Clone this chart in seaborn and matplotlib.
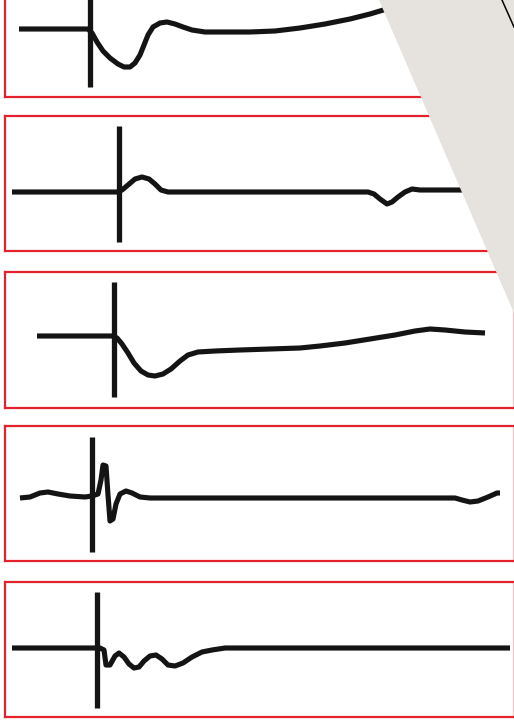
import numpy as np
import pandas as pd
import seaborn as sb
import matplotlib.pyplot as plt
from matplotlib.patches import Polygon

# traces: time (px along panel), level (px down the page)
t1 = [19, 88, 92, 97, 103, 110, 118, 124, 130, 135, 140, 144, 148, 153, 160, 167, 175, 183, 192, 205, 230, 250,
      275, 300, 325, 350, 370, 390, 410]
y1 = [29, 29, 33, 42, 51, 58, 64, 67, 67, 63, 55, 45, 35, 27, 23, 22, 24, 27, 30, 32, 32, 32,
      31, 28, 24, 19, 14, 8, 2]

t2 = [12, 117, 122, 128, 135, 142, 149, 155, 161, 168, 250, 368, 374, 380, 387, 392, 398, 405, 412, 420, 440, 470]
y2 = [192, 192, 190, 185, 179, 177, 179, 184, 190, 192, 192, 192, 194, 199, 204, 202, 197, 192, 189, 190, 190, 190]

t3 = [37, 112, 117, 122, 128, 134, 141, 148, 155, 163, 171, 180, 188, 198, 215, 240, 270, 300, 320, 345,
      370, 395, 415, 430, 445, 465, 485]
y3 = [336, 336, 338, 344, 353, 363, 371, 375, 376, 374, 369, 361, 355, 352, 351, 350, 349, 348, 346, 343,
      339, 335, 331, 329, 330, 332, 333]

t4 = [20, 30, 40, 48, 58, 70, 85, 92, 98, 101, 103, 106, 108, 110, 113, 116, 120, 126, 132, 140, 150, 300,
      455, 462, 470, 478, 488, 497, 500]
y4 = [498, 497, 493, 492, 494, 496, 497, 496, 494, 480, 465, 466, 495, 521, 519, 504, 494, 491, 493, 497, 498, 498,
      498, 500, 502, 501, 497, 493, 493]

t5 = [12, 95, 100, 104, 106, 110, 115, 119, 124, 129, 134, 139, 144, 150, 156, 162, 168, 175, 183, 192,
      202, 212, 225, 300, 510]
y5 = [648, 648, 648, 650, 665, 665, 656, 653, 657, 664, 668, 667, 661, 656, 655, 659, 665, 666, 663, 657,
      652, 650, 648, 648, 648]

# stimulus markers: time, top, bottom
marker_t = [90, 119, 114, 92, 97]
marker_top = [-30, 126, 282, 437, 592]
marker_bot = [87, 242, 397, 552, 708]

traces = [(t1, y1), (t2, y2), (t3, y3), (t4, y4), (t5, y5)]

# panel boxes in pixels (top, bottom)
boxes = [(-30, 97), (116, 251), (272, 408), (426, 561), (582, 717)]
W, H = 514, 720
left, right = 5, 513
red = '#E2232E'

fig = plt.figure(figsize=(W / 100, H / 100), dpi=100)
fig.patch.set_facecolor('white')

for i, (top, bot) in enumerate(boxes):
    ax = fig.add_axes([left / W, 1 - bot / H, (right - left) / W, (bot - top) / H])
    tt, yy = traces[i]
    sb.lineplot(x=tt, y=yy, ax=ax, color='#141414', linewidth=3.7, sort=False, estimator=None,
                solid_capstyle='butt', solid_joinstyle='round')
    sb.lineplot(x=[marker_t[i], marker_t[i]], y=[marker_top[i], marker_bot[i]], ax=ax, color='#141414',
                linewidth=3.8, sort=False, estimator=None, solid_capstyle='butt')
    ax.set_xlim(left, right)
    ax.set_ylim(bot, top)
    ax.set_xticks([])
    ax.set_yticks([])
    ax.set_xlabel('')
    ax.set_ylabel('')
    ax.set_facecolor('white')
    for side, sp in ax.spines.items():
        sp.set_color(red)
        sp.set_linewidth(1.6)
    ax.spines['right'].set_color('#F4C6C9')
    ax.spines['right'].set_linewidth(1.0)

# paper fold overlay on the top right
ov = fig.add_axes([0, 0, 1, 1], zorder=10)
ov.set_xlim(0, W)
ov.set_ylim(H, 0)
ov.axis('off')
ov.patch.set_alpha(0)
ov.add_patch(Polygon([(379, 0), (514, 313), (514, 0)], closed=True, facecolor='#E6E3DE', edgecolor='none'))
ov.plot([502, 514], [0, 27], color='black', linewidth=1.1)

plt.savefig('out.png', dpi=100)
